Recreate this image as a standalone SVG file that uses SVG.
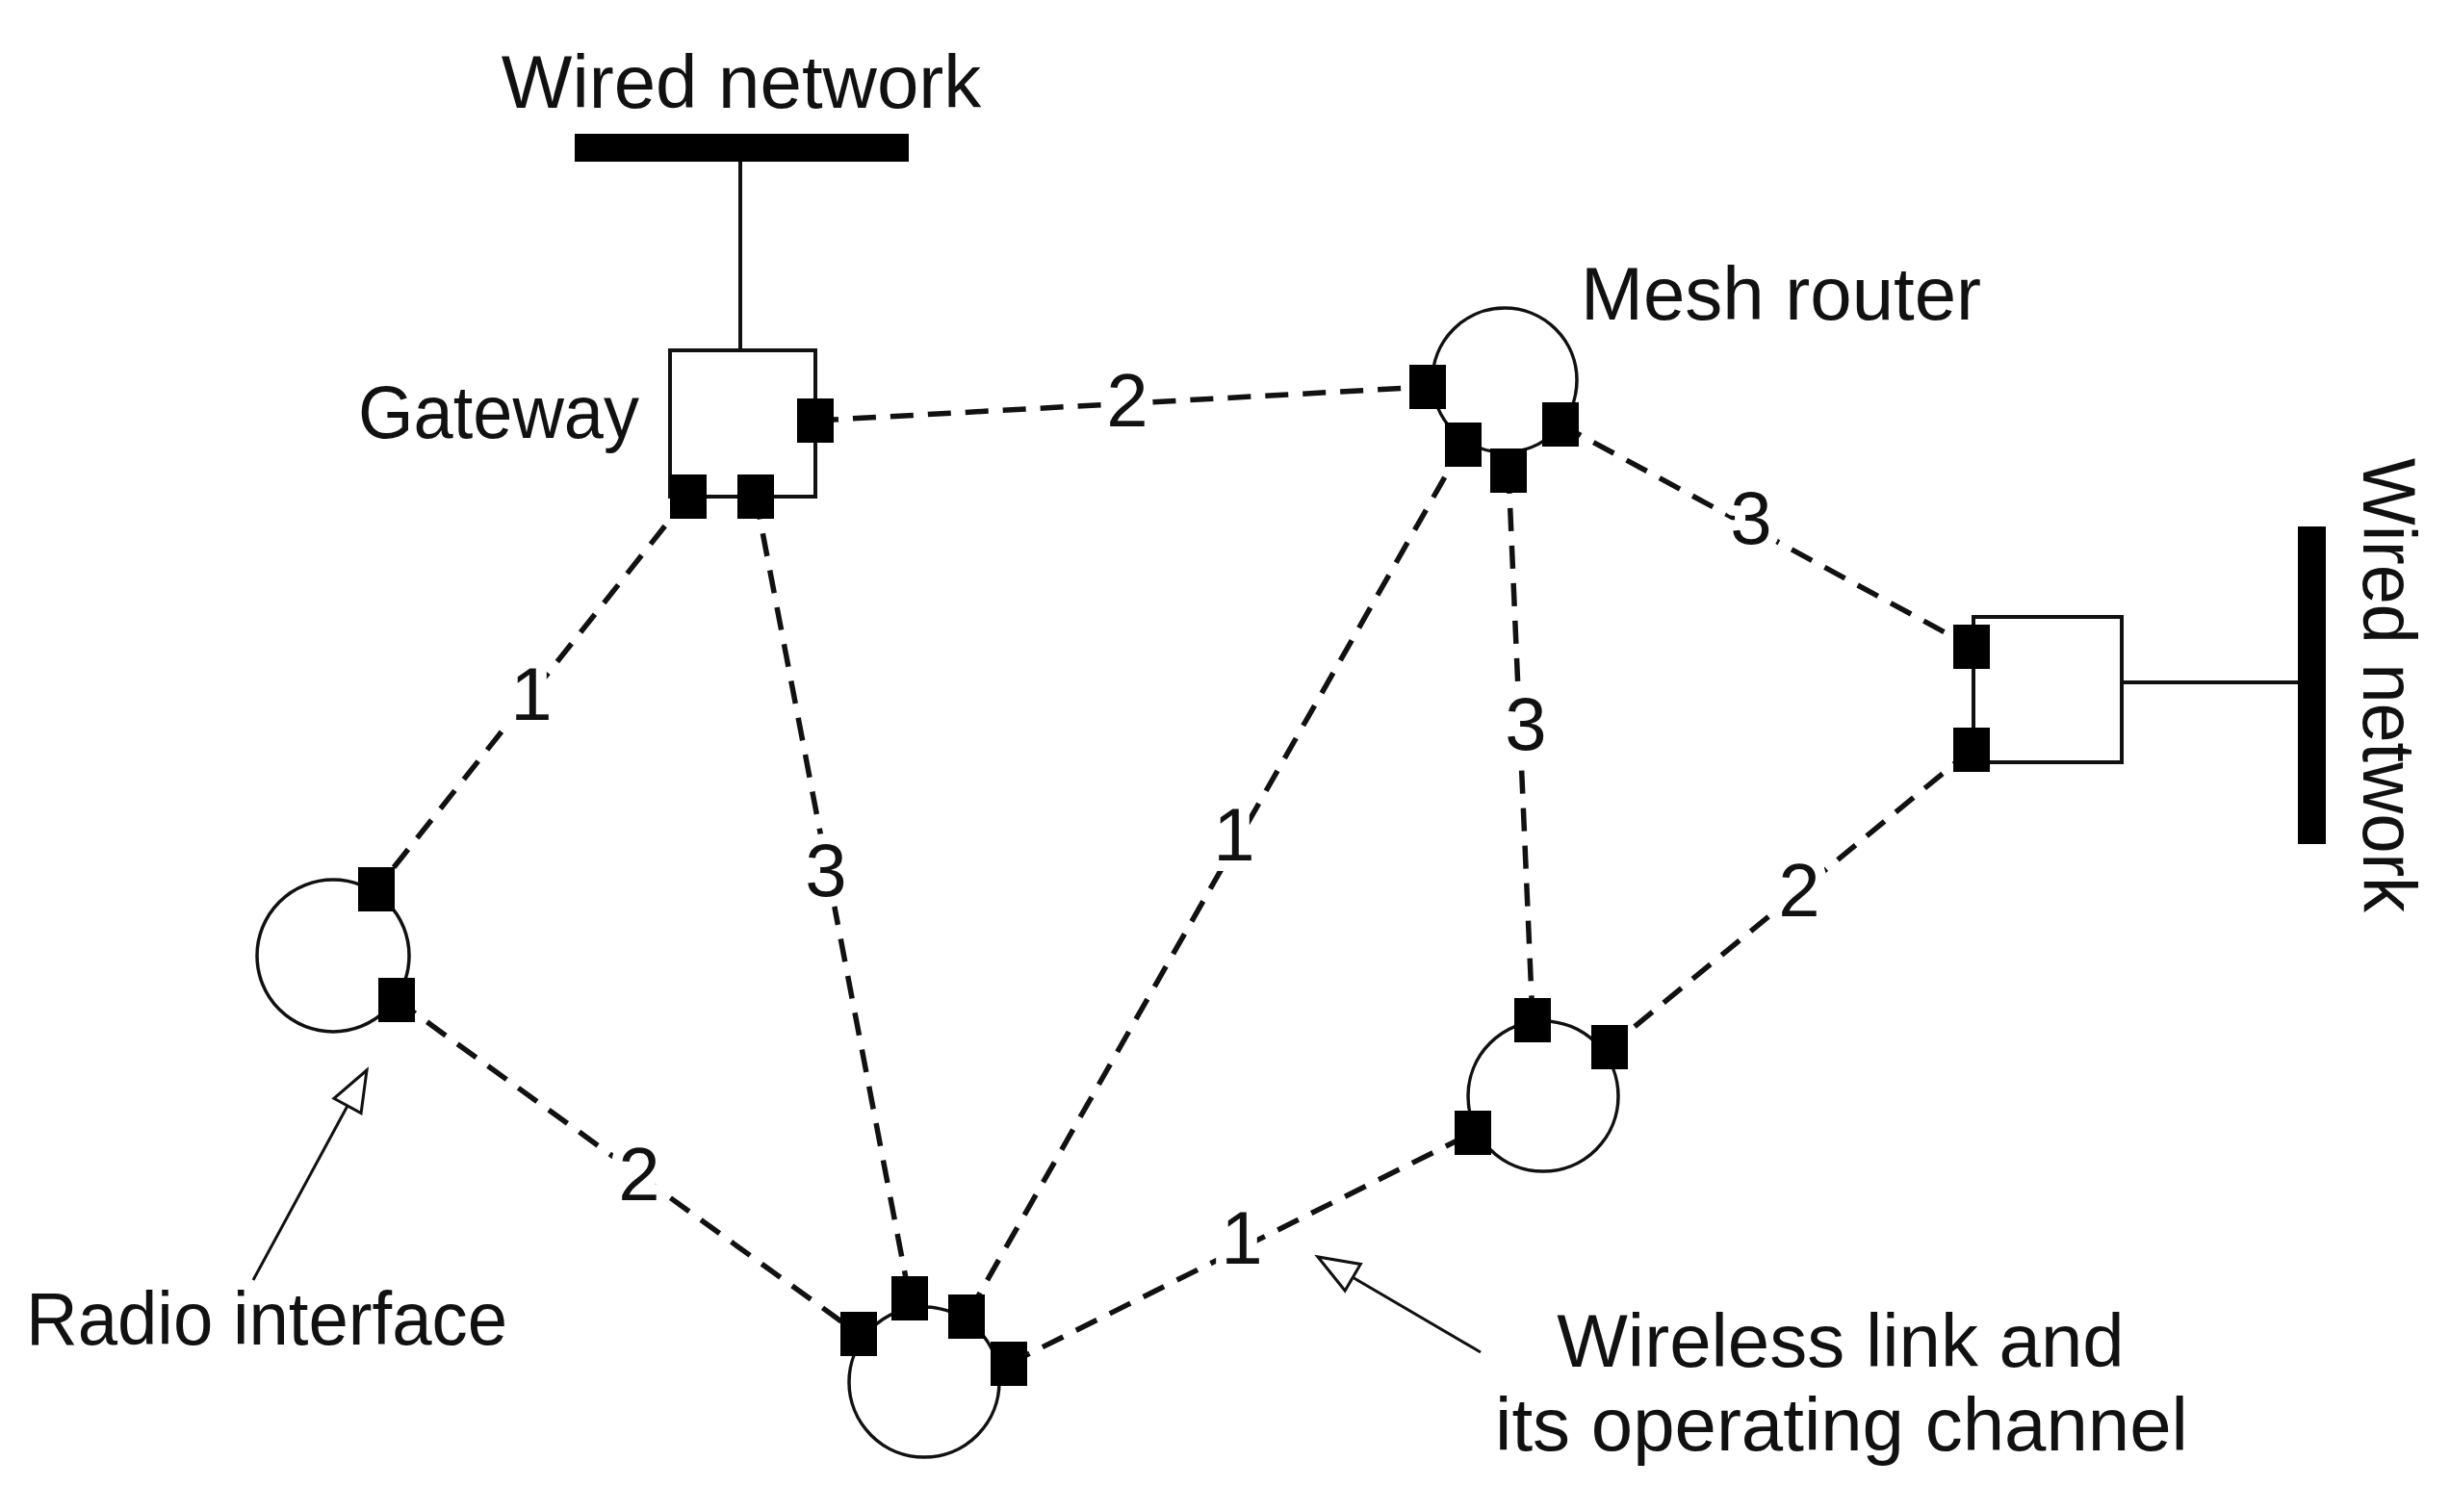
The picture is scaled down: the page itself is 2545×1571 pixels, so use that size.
<svg xmlns="http://www.w3.org/2000/svg" width="2545" height="1571" viewBox="0 0 2545 1571">
<style>
.t{font-family:"Liberation Sans",Arial,sans-serif;font-size:78px;fill:#111}
.lbl{font-family:"Liberation Sans",Arial,sans-serif;font-size:78px;fill:#111;text-anchor:middle;stroke:#fff;stroke-width:22px;paint-order:stroke;stroke-linejoin:round}
.link{fill:none;stroke:#111;stroke-width:5.5;stroke-dasharray:24 15}
.solid{fill:none;stroke:#111;stroke-width:4}
.ring{fill:none;stroke:#111;stroke-width:3.5}
.box{fill:#fff;stroke:#111;stroke-width:4}
.bar{fill:#000}
.ptr{fill:none;stroke:#111;stroke-width:3}
</style>
<defs>
<marker id="ohead" markerUnits="userSpaceOnUse" markerWidth="60" markerHeight="50" refX="50" refY="25" orient="auto" viewBox="0 0 60 50">
<path d="M50,25 L8,9 L8,41 Z" fill="#fff" stroke="#111" stroke-width="3"/>
</marker>
<rect id="sq" x="-19" y="-23" width="38" height="46"/>
</defs>
<rect width="2545" height="1571" fill="#fff"/>

<g id="connectors">
<line class="solid" x1="769" y1="160" x2="769" y2="366"/>
<line class="solid" x1="2202" y1="709" x2="2395" y2="709"/>
<line class="link" x1="847" y1="437" x2="1483" y2="402"/>
<line class="link" x1="715" y1="516" x2="391" y2="924"/>
<line class="link" x1="785" y1="516" x2="945" y2="1349"/>
<line class="link" x1="412" y1="1039" x2="892" y2="1386"/>
<line class="link" x1="1520" y1="462" x2="1004" y2="1368"/>
<line class="link" x1="1567" y1="489" x2="1592" y2="1060"/>
<line class="link" x1="1621" y1="441" x2="2048" y2="672"/>
<line class="link" x1="2048" y1="779" x2="1672" y2="1088"/>
<line class="link" x1="1048" y1="1417" x2="1530" y2="1177"/>
<line class="ptr" x1="263" y1="1330" x2="381" y2="1112" marker-end="url(#ohead)"/>
<line class="ptr" x1="1538" y1="1405" x2="1369" y2="1306" marker-end="url(#ohead)"/>
<text class="lbl" x="1171" y="443">2</text>
<text class="lbl" x="552" y="748">1</text>
<text class="lbl" x="858" y="931">3</text>
<text class="lbl" x="664" y="1247">2</text>
<text class="lbl" x="1282" y="894">1</text>
<text class="lbl" x="1585" y="779">3</text>
<text class="lbl" x="1819" y="565">3</text>
<text class="lbl" x="1869" y="952">2</text>
<text class="lbl" x="1290" y="1313">1</text>
</g>

<g id="wired-top">
<rect class="bar" x="597" y="139" width="347" height="29"/>
<text class="t" x="770" y="112" text-anchor="middle">Wired network</text>
</g>

<g id="gateway">
<rect class="box" x="696" y="364" width="151" height="152"/>
<use href="#sq" x="847" y="437"/>
<use href="#sq" x="715" y="516"/>
<use href="#sq" x="785" y="516"/>
<text class="t" x="372" y="455" textLength="292" lengthAdjust="spacingAndGlyphs">Gateway</text>
</g>

<g id="mesh-router">
<circle class="ring" cx="1563" cy="395" r="75"/>
<use href="#sq" x="1483" y="402"/>
<use href="#sq" x="1520" y="462"/>
<use href="#sq" x="1567" y="489"/>
<use href="#sq" x="1621" y="441"/>
<text class="t" x="1850" y="332" text-anchor="middle">Mesh router</text>
</g>

<g id="gateway-right">
<rect class="box" x="2050" y="641" width="154" height="151"/>
<use href="#sq" x="2048" y="672"/>
<use href="#sq" x="2048" y="779"/>
</g>

<g id="wired-right">
<rect class="bar" x="2387" y="547" width="29" height="330"/>
<text class="t" transform="translate(2455,712) rotate(90)" x="0" y="0" text-anchor="middle" textLength="472" lengthAdjust="spacingAndGlyphs">Wired network</text>
</g>

<g id="router-left">
<circle class="ring" cx="346" cy="993" r="79"/>
<use href="#sq" x="391" y="924"/>
<use href="#sq" x="412" y="1039"/>
</g>

<g id="router-bottom">
<circle class="ring" cx="960" cy="1436" r="78"/>
<use href="#sq" x="892" y="1386"/>
<use href="#sq" x="945" y="1349"/>
<use href="#sq" x="1004" y="1368"/>
<use href="#sq" x="1048" y="1417"/>
</g>

<g id="router-lower-right">
<circle class="ring" cx="1603" cy="1139" r="78"/>
<use href="#sq" x="1592" y="1060"/>
<use href="#sq" x="1672" y="1088"/>
<use href="#sq" x="1530" y="1177"/>
</g>

<g id="radio-interface-label">
<text class="t" x="27" y="1397" textLength="500" lengthAdjust="spacingAndGlyphs">Radio interface</text>
</g>

<g id="wireless-link-label">
<text class="t" x="1912" y="1420" text-anchor="middle">Wireless link and</text>
<text class="t" x="1913" y="1507" text-anchor="middle">its operating channel</text>
</g>
</svg>
